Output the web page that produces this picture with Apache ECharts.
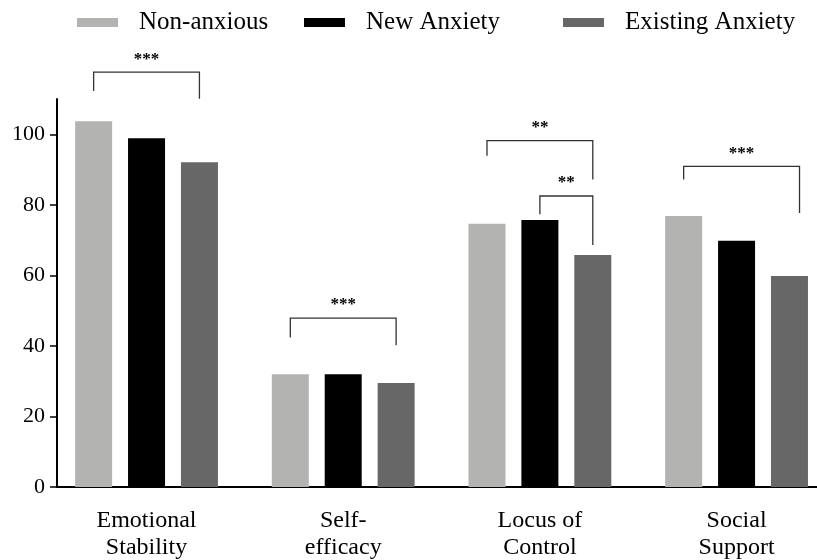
<!DOCTYPE html>
<html>
<head>
<meta charset="utf-8">
<script src="https://cdn.jsdelivr.net/npm/echarts@6/dist/echarts.min.js"></script>
<style>
html,body{margin:0;padding:0;background:#fff;}
#chart{width:817px;height:560px;}
</style>
</head>
<body>
<div id="chart"></div>
<script>
// ---- data ----
const categories = ['Emotional\nStability', 'Self-\nefficacy', 'Locus of\nControl', 'Social\nSupport'];
const seriesNames = ['Non-anxious', 'New Anxiety', 'Existing Anxiety'];
const nonAnxious = [103.7, 32.0, 74.6, 76.8];
const newAnxiety = [98.9, 32.0, 75.7, 69.8];
const existingAnxiety = [92.1, 29.5, 65.8, 59.8];
const yTicks = [0, 20, 40, 60, 80, 100];
// significance brackets: [categoryIndex, fromBar, toBar, topValue, leftEndValue, rightEndValue, label]
const brackets = [
  [0, 0, 2, 117.6, 112.3, 110.1, '***'],
  [1, 0, 2, 47.9, 42.4, 40.2, '***'],
  [2, 0, 2, 98.2, 93.9, 87.2, '**'],
  [2, 1, 2, 82.5, 77.3, 68.6, '**'],
  [3, 0, 2.19, 90.9, 87.2, 77.7, '***']
];

// ---- style ----
const FONT = "'Liberation Serif', 'Times New Roman', serif";
const colors = ['#b3b3b2', '#000000', '#676767'];
const BAND_LEFT = 48.2, BAND_WIDTH = 786.7;
const SLOT_FRAC = 0.269; // bar-centre offset as fraction of category band

const chart = echarts.init(document.getElementById('chart'));

function legendFor(i, left) {
  return {
    data: [seriesNames[i]],
    left: left, top: 5,
    icon: 'rect', itemWidth: 41, itemHeight: 9,
    textStyle: { fontFamily: FONT, fontSize: 25, color: '#000', padding: [0, 0, 0, 16] },
    selectedMode: false
  };
}

const option = {
  animation: false,
  backgroundColor: '#fff',
  legend: [legendFor(0, 72), legendFor(1, 299), legendFor(2, 558)],
  grid: [
    { left: BAND_LEFT, width: BAND_WIDTH, top: 99, bottom: 73, outerBoundsMode: 'none', containLabel: false },
    { left: 57, right: 0, top: 99, bottom: 73, outerBoundsMode: 'none', containLabel: false }
  ],
  xAxis: [
    {
      type: 'category', gridIndex: 0, data: categories,
      axisLine: { show: false }, axisTick: { show: false },
      axisLabel: { fontFamily: FONT, fontSize: 24, color: '#000', lineHeight: 27, margin: 20 }
    },
    {
      type: 'value', gridIndex: 1, min: 0, max: 1,
      axisLine: { show: true, lineStyle: { color: '#000', width: 2 } },
      axisTick: { show: false }, axisLabel: { show: false }, splitLine: { show: false }
    }
  ],
  yAxis: [
    { type: 'value', gridIndex: 0, min: 0, max: 110, show: false },
    {
      type: 'value', gridIndex: 1, min: 0, max: 110, interval: 20,
      axisLine: { show: true, lineStyle: { color: '#000', width: 2 } },
      axisTick: { show: true, length: 7, lineStyle: { color: '#000', width: 1.5 }, customValues: yTicks },
      axisLabel: { fontFamily: FONT, fontSize: 22, color: '#000', margin: 12, customValues: yTicks },
      splitLine: { show: false }
    }
  ],
  series: [
    { name: seriesNames[0], type: 'bar', xAxisIndex: 0, yAxisIndex: 0, data: nonAnxious,
      barWidth: 37, barGap: '43%', itemStyle: { color: colors[0] } },
    { name: seriesNames[1], type: 'bar', xAxisIndex: 0, yAxisIndex: 0, data: newAnxiety,
      barWidth: 37, barGap: '43%', itemStyle: { color: colors[1] } },
    { name: seriesNames[2], type: 'bar', xAxisIndex: 0, yAxisIndex: 0, data: existingAnxiety,
      barWidth: 37, barGap: '43%', itemStyle: { color: colors[2] } },
    {
      type: 'custom', xAxisIndex: 0, yAxisIndex: 0, clip: false, silent: true, z: 5,
      data: brackets,
      encode: { x: 0, y: 3 },
      renderItem: function (params, api) {
        const cat = api.value(0);
        const band = api.size([1, 0])[0];
        const top = api.coord([cat, api.value(3)]);
        const yL = api.coord([cat, api.value(4)])[1];
        const yR = api.coord([cat, api.value(5)])[1];
        const x1 = top[0] + (api.value(1) - 1) * band * SLOT_FRAC;
        const x2 = top[0] + (api.value(2) - 1) * band * SLOT_FRAC;
        const label = brackets[params.dataIndex][6];
        return {
          type: 'group',
          children: [
            { type: 'polyline', shape: { points: [[x1, yL], [x1, top[1]], [x2, top[1]], [x2, yR]] },
              style: { stroke: '#333', lineWidth: 1.3, fill: null } },
            { type: 'text', style: { text: label, x: (x1 + x2) / 2, y: top[1] - 13,
              align: 'center', verticalAlign: 'middle', fontFamily: FONT, fontSize: 17,
              fontWeight: 'bold', fill: '#000' } }
          ]
        };
      }
    }
  ]
};
chart.setOption(option);
</script>
</body>
</html>
